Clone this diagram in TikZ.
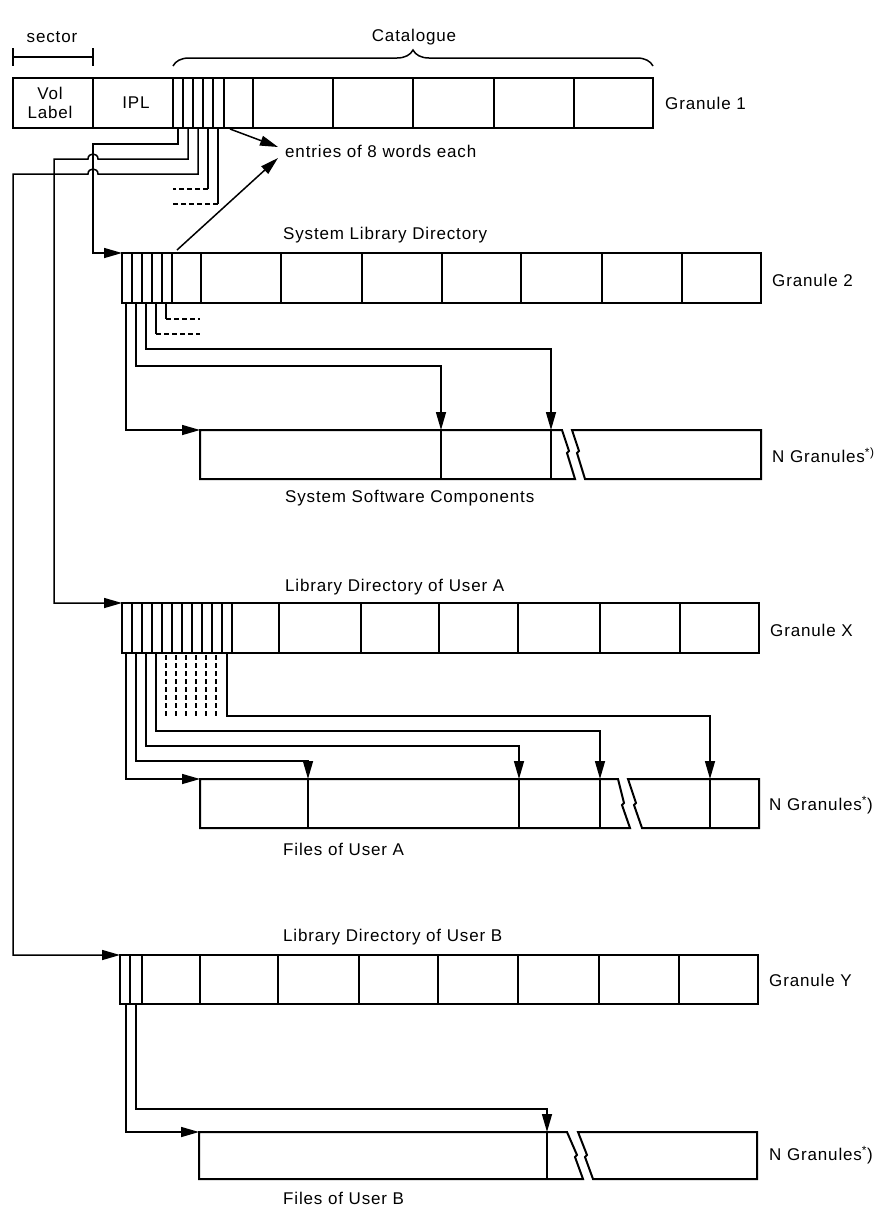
\documentclass[tikz,border=0pt]{standalone}
\usepackage{fontspec}
\setmainfont{Liberation Sans}[LetterSpace=5]
\usetikzlibrary{arrows.meta,decorations.pathreplacing}
\begin{document}
\begin{tikzpicture}[x=1pt,y=-1pt,
  box/.style={line width=2pt, line join=miter},
  conn/.style={line width=1.5pt},
  arr/.style={conn,-{Triangle[length=18pt,width=10pt]}},
  dashconn/.style={conn,dash pattern=on 5pt off 3pt},
  txt/.style={inner sep=0pt,font=\fontsize{17}{19}\selectfont},
  lbl/.style={txt,anchor=west},
]
\useasboundingbox (0,0) rectangle (878,1208);

% ---------- header ----------
\node[txt] (sector) at (52,37) {sector};
\draw[conn] (13,57) -- (93,57);
\draw[conn] (13,48) -- (13,66);
\draw[conn] (93,48) -- (93,66);
\node[txt] (catalogue) at (414,37) {Catalogue};
\draw[conn,decorate,decoration={brace,amplitude=16pt}] (173,66) -- (653,66);

% ---------- Granule 1 ----------
\draw[box] (13,78) rectangle (653,128);
\foreach \x in {93,173,183,193,203,213,224,253,333,413,494,574}
  \draw[box] (\x,78) -- (\x,128);
\node[txt,align=center] (vol) at (50,103) {Vol\\Label};
\node[txt] (ipl) at (136,103) {IPL};
\node[lbl] (gran1) at (665,103) {Granule 1};

\coordinate (g1a) at (178,128);
\coordinate (g1b) at (188,128);
\coordinate (g1c) at (198,128);
\coordinate (g1d) at (208,128);
\coordinate (g1e) at (218,128);
\coordinate (g1x) at (230,129);
\coordinate (g2in) at (122,253);
\coordinate (gxin) at (122,603);
\coordinate (gyin) at (120,955);

\draw[arr] (g1a) |- (93,144) |- (g2in);
\draw[arr] (g1b) |- (98,159) .. controls (98,152.3) and (88,152.3) .. (88,159) -- (54,159) |- (gxin);
\draw[arr] (g1c) |- (98,174) .. controls (98,167.3) and (88,167.3) .. (88,174) -- (13,174) |- (gyin);
\draw[conn] (g1d) -- (208,189);
\draw[dashconn] (208,189) -- (173,189);
\draw[conn] (g1e) -- (218,204);
\draw[dashconn] (218,204) -- (173,204);

\node[lbl] (entries) at (285,151) {entries of 8 words each};
\coordinate (ent1) at (278,147);
\coordinate (ent2) at (278,158);
\coordinate (g2top) at (177,250);
\draw[arr] (g1x) -- (ent1);
\draw[arr] (g2top) -- (ent2);

% ---------- Granule 2 ----------
\node[lbl] (sld) at (283,235) {System Library Directory};
\draw[box] (122,253) rectangle (761,303);
\foreach \x in {132,142,152,162,172,201,281,362,442,521,602,682}
  \draw[box] (\x,253) -- (\x,303);
\node[lbl] (gran2) at (772,280) {Granule 2};

\coordinate (s1) at (441,430);
\coordinate (s2) at (551,430);
\coordinate (sin) at (200,430);
\draw[conn] (166,303) -- (166,319);
\draw[dashconn] (166,319) -- (200,319);
\draw[conn] (156,303) -- (156,334);
\draw[dashconn] (156,334) -- (200,334);
\draw[arr] (146,303) |- (551,349) -- (s2);
\draw[arr] (136,303) |- (441,366) -- (s1);
\draw[arr] (126,303) |- (sin);

% System software components
\draw[box] (562,430) -- (200,430) -- (200,479) -- (575,479) -- (567,453) -- (569,451) -- cycle;
\draw[box] (572,430) -- (761,430) -- (761,479) -- (585,479) -- (577,453) -- (579,451) -- cycle;
\draw[box] (441,430) -- (441,479);
\draw[box] (551,430) -- (551,479);
\node[lbl] (ng1) at (772,455) {N Granules\textsuperscript{*)}};
\node[lbl] (ssc) at (285,498) {System Software Components};

% ---------- Granule X ----------
\node[lbl] (ldua) at (285,587) {Library Directory of User A};
\draw[box] (122,603) rectangle (759,653);
\foreach \x in {132,142,152,162,172,182,192,202,212,222,232,279,361,439,518,600,680}
  \draw[box] (\x,603) -- (\x,653);
\node[lbl] (granx) at (770,630) {Granule X};

\foreach \x in {166,176,186,196,206,216}
  \draw[dashconn] (\x,655) -- (\x,717);
\coordinate (fa1) at (308,779);
\coordinate (fa2) at (519,779);
\coordinate (fa3) at (600,779);
\coordinate (fa4) at (710,779);
\coordinate (fain) at (200,779);
\draw[arr] (227,653) |- (710,716) -- (fa4);
\draw[arr] (156,653) |- (600,731) -- (fa3);
\draw[arr] (146,653) |- (519,746) -- (fa2);
\draw[arr] (136,653) |- (308,761) -- (fa1);
\draw[arr] (126,653) |- (fain);

% Files of user A
\draw[box] (618,779) -- (200,779) -- (200,828) -- (630,828) -- (622,805) -- (624,803) -- cycle;
\draw[box] (628,779) -- (759,779) -- (759,828) -- (642,828) -- (634,805) -- (636,803) -- cycle;
\foreach \x in {308,519,600,710}
  \draw[box] (\x,779) -- (\x,828);
\node[lbl] (ng2) at (769,805) {N Granules\textsuperscript{*})};
\node[lbl] (fua) at (283,849) {Files of User A};

% ---------- Granule Y ----------
\node[lbl] (ldub) at (283,937) {Library Directory of User B};
\draw[box] (120,955) rectangle (758,1004);
\foreach \x in {130,142,200,278,359,438,518,599,679}
  \draw[box] (\x,955) -- (\x,1004);
\node[lbl] (grany) at (769,980) {Granule Y};

\coordinate (fb1) at (547,1132);
\coordinate (fbin) at (199,1132);
\draw[arr] (136,1004) |- (547,1109) -- (fb1);
\draw[arr] (126,1004) |- (fbin);

% Files of user B
\draw[box] (567,1132) -- (199,1132) -- (199,1179) -- (583,1179) -- (575,1157) -- (577,1155) -- cycle;
\draw[box] (578,1132) -- (757,1132) -- (757,1179) -- (593,1179) -- (585,1157) -- (587,1155) -- cycle;
\draw[box] (547,1132) -- (547,1179);
\node[lbl] (ng3) at (769,1155) {N Granules\textsuperscript{*})};
\node[lbl] (fub) at (283,1198) {Files of User B};
\end{tikzpicture}
\end{document}
